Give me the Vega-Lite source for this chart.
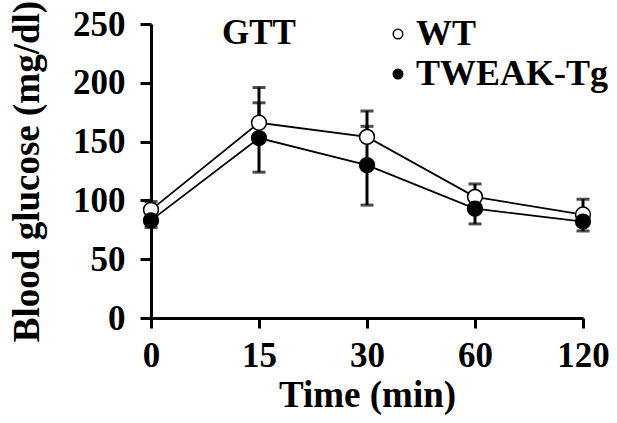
{
  "$schema": "https://vega.github.io/schema/vega-lite/v6.json",
  "autosize": {"type": "none"},
  "width": 432,
  "height": 294,
  "padding": {"left": 151, "top": 24, "right": 34, "bottom": 105},
  "background": "white",
  "config": {
    "font": "Liberation Serif",
    "view": {"stroke": null},
    "axis": {
      "grid": false,
      "domainColor": "black",
      "domainWidth": 3,
      "tickColor": "black",
      "tickWidth": 3,
      "labelFont": "Liberation Serif",
      "labelFontWeight": "bold",
      "labelFontSize": 35,
      "labelColor": "black",
      "titleFont": "Liberation Serif",
      "titleFontWeight": "bold",
      "titleFontSize": 37,
      "titleColor": "black"
    }
  },
  "data": {
    "values": [
      {"group": "WT", "time": "0", "mean": 92, "lo": 92, "hi": 99},
      {"group": "WT", "time": "15", "mean": 166, "lo": 166, "hi": 196},
      {"group": "WT", "time": "30", "mean": 154, "lo": 154, "hi": 176},
      {"group": "WT", "time": "60", "mean": 103, "lo": 103, "hi": 114},
      {"group": "WT", "time": "120", "mean": 88, "lo": 88, "hi": 101},
      {"group": "TWEAK-Tg", "time": "0", "mean": 83, "lo": 77, "hi": 89},
      {"group": "TWEAK-Tg", "time": "15", "mean": 153, "lo": 124, "hi": 183},
      {"group": "TWEAK-Tg", "time": "30", "mean": 130, "lo": 96, "hi": 163},
      {"group": "TWEAK-Tg", "time": "60", "mean": 93, "lo": 80, "hi": 106},
      {"group": "TWEAK-Tg", "time": "120", "mean": 82, "lo": 74, "hi": 90}
    ]
  },
  "encoding": {
    "x": {
      "field": "time",
      "type": "ordinal",
      "sort": ["0", "15", "30", "60", "120"],
      "scale": {"type": "point", "padding": 0},
      "axis": {"title": "Time (min)", "labelAngle": 0, "tickSize": 10, "labelPadding": 10, "titlePadding": 4}
    }
  },
  "layer": [
    {
      "mark": {"type": "rule", "color": "black", "strokeWidth": 3},
      "encoding": {
        "y": {
          "field": "lo",
          "type": "quantitative",
          "title": "Blood glucose (mg/dl)",
          "scale": {"domain": [0, 250], "nice": false},
          "axis": {"values": [0, 50, 100, 150, 200, 250], "tickSize": 11, "labelPadding": 15, "titlePadding": 26, "titleFontSize": 37}
        },
        "y2": {"field": "hi"}
      }
    },
    {
      "mark": {"type": "tick", "orient": "horizontal", "color": "black", "size": 13, "thickness": 3},
      "encoding": {"y": {"field": "hi", "type": "quantitative", "title": "Blood glucose (mg/dl)"}}
    },
    {
      "transform": [{"filter": "datum.group === 'TWEAK-Tg'"}],
      "mark": {"type": "tick", "orient": "horizontal", "color": "black", "size": 13, "thickness": 3},
      "encoding": {"y": {"field": "lo", "type": "quantitative", "title": "Blood glucose (mg/dl)"}}
    },
    {
      "mark": {"type": "line", "color": "black", "strokeWidth": 1.75},
      "encoding": {
        "y": {"field": "mean", "type": "quantitative", "title": "Blood glucose (mg/dl)"},
        "detail": {"field": "group"}
      }
    },
    {
      "mark": {"type": "point", "shape": "circle", "filled": true, "stroke": "black", "strokeWidth": 1.5, "size": 220, "opacity": 1},
      "encoding": {
        "y": {"field": "mean", "type": "quantitative", "title": "Blood glucose (mg/dl)"},
        "fill": {
          "field": "group",
          "type": "nominal",
          "scale": {"domain": ["WT", "TWEAK-Tg"], "range": ["white", "black"]},
          "legend": {
            "title": null,
            "orient": "none",
            "legendX": 229,
            "legendY": -8,
            "symbolType": "circle",
            "symbolSize": 90,
            "symbolStrokeColor": "black",
            "symbolStrokeWidth": 1.5,
            "labelFont": "Liberation Serif",
            "labelFontWeight": "bold",
            "labelFontSize": 36,
            "labelColor": "black",
            "labelLimit": 400,
            "labelOffset": 0,
            "rowPadding": 4
          }
        }
      }
    },
    {
      "data": {"values": [{"label": "GTT", "time": "15", "pos": 242}]},
      "mark": {"type": "text", "font": "Liberation Serif", "fontWeight": "bold", "fontSize": 35, "color": "black", "baseline": "middle", "align": "center"},
      "encoding": {
        "y": {"field": "pos", "type": "quantitative", "title": "Blood glucose (mg/dl)"},
        "text": {"field": "label"}
      }
    }
  ]
}
